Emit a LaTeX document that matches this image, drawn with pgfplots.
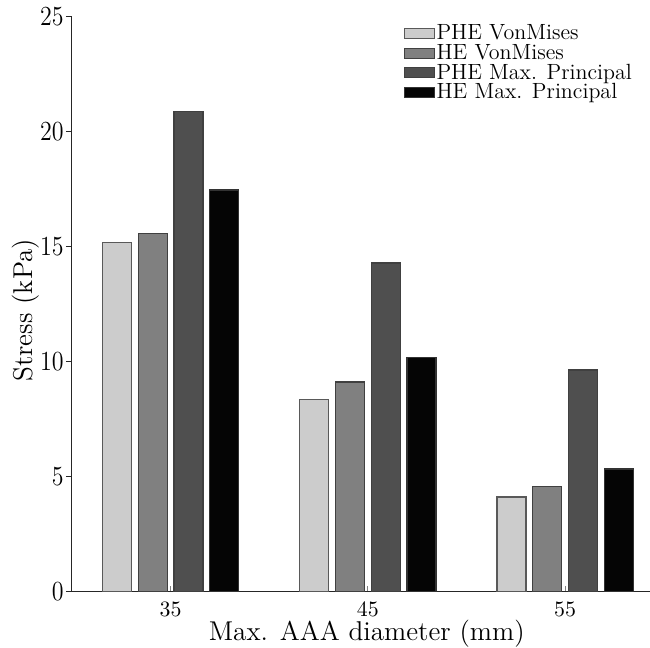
\documentclass[border=0pt]{standalone}
\usepackage{pgfplots}
\pgfplotsset{compat=1.18}
\definecolor{cA}{gray}{0.80}
\definecolor{cB}{gray}{0.50}
\definecolor{cC}{gray}{0.31}
\definecolor{cD}{gray}{0.02}
\begin{document}
\begin{tikzpicture}
\path[use as bounding box] (0,0) rectangle (325pt,324pt);
\begin{axis}[
  at={(36pt,28pt)}, anchor=south west,
  scale only axis, width=289pt, height=287.5pt,
  xmin=30, xmax=59.3, ymin=0, ymax=25,
  axis x line=bottom, axis y line=left,
  axis line style={-, black!85, line width=0.5pt},
  xtick={35,45,55}, ytick={0,5,10,15,20,25},
  tick align=outside,
  major tick length=3pt,
  x tick style={yshift=3pt, black!50, line width=0.5pt},
  y tick style={black!85, line width=0.5pt},
  xticklabel style={inner sep=2pt, font=\fontsize{10.5}{12}\selectfont},
  yticklabel style={inner sep=1pt, font=\fontsize{11.5}{13}\selectfont},
  yticklabel={\scalebox{1}[1.15]{$\pgfmathprintnumber{\tick}$}},
  xlabel={Max. AAA diameter (mm)},
  ylabel={Stress (kPa)},
  label style={font=\fontsize{13.6}{16}\selectfont},
  xlabel style={at={(axis description cs:0.51,-0.0835)}, anchor=base},
  ylabel style={at={(axis description cs:-0.0675,0.49)}, anchor=base},
  ybar, bar width=1.47,
  legend style={draw=none, fill=none, at={(0.573,0.991)}, anchor=north west,
    font=\fontsize{11}{11}\selectfont, row sep=-1.2pt, inner sep=0pt,
    nodes={inner sep=1pt}},
  legend cell align=left,
  legend image code/.code={\draw[#1, line width=0.5pt] (0pt,-2.5pt) rectangle (15pt,2.5pt);},
]
\addplot[fill=cA, draw=black!65, line width=0.6pt, bar shift=-2.72] coordinates {(35,15.2) (45,8.37) (55,4.13)};
\addplot[fill=cB, draw=black!75, line width=0.6pt, bar shift=-0.91] coordinates {(35,15.58) (45,9.13) (55,4.57)};
\addplot[fill=cC, draw=black!75, line width=0.6pt, bar shift=0.91] coordinates {(35,20.9) (45,14.3) (55,9.65)};
\addplot[fill=cD, draw=black!80, line width=0.6pt, bar shift=2.72] coordinates {(35,17.48) (45,10.2) (55,5.35)};
\legend{PHE VonMises, HE VonMises, PHE Max. Principal, HE Max. Principal}
\end{axis}
\end{tikzpicture}
\end{document}
